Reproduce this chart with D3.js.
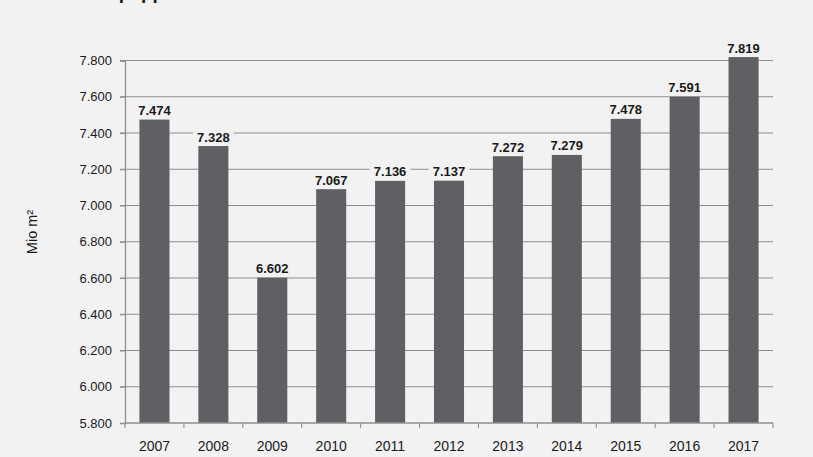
<!DOCTYPE html>
<html>
<head>
<meta charset="utf-8">
<script src="https://cdn.jsdelivr.net/npm/d3@7"></script>
<style>
  html, body { margin: 0; padding: 0; background: #f2f2f2; }
  svg { display: block; }
  text { font-family: "Liberation Sans", Arial, sans-serif; fill: #1a1a1a; }
</style>
</head>
<body>
<svg id="chart" width="813" height="457"></svg>
<script>
// Data
const years = ["2007","2008","2009","2010","2011","2012","2013","2014","2015","2016","2017"];
const barValues = [7474, 7328, 6602, 7090, 7136, 7137, 7272, 7279, 7478, 7600, 7819];
const valueLabels = ["7.474","7.328","6.602","7.067","7.136","7.137","7.272","7.279","7.478","7.591","7.819"];
const yTicks = [5800, 6000, 6200, 6400, 6600, 6800, 7000, 7200, 7400, 7600, 7800];
const yTitle = "Mio m²";
const titleText = "Wellpappe";

const W = 813, H = 457;
const plotLeft = 125, plotRight = 773, plotTop = 60.5, plotBottom = 423;

const svg = d3.select("#chart");
svg.append("rect").attr("width", W).attr("height", H).attr("fill", "#f2f2f2");

const de = d3.formatLocale({decimal: ",", thousands: ".", grouping: [3], currency: ["", "€"]});
const fmt = de.format(",d");

const x = d3.scaleBand().domain(years).range([plotLeft, plotRight]).paddingInner(0.49).paddingOuter(0.245);
const y = d3.scaleLinear().domain([5800, 7800]).range([plotBottom, plotTop]);

// title (cut off at the top, as in the reference)
svg.append("text").attr("x", 80).attr("y", -1)
  .attr("font-size", 19).attr("font-weight", "bold").text(titleText);

// gridlines
svg.append("g").selectAll("line").data(yTicks.filter(d => d > 5800)).join("line")
  .attr("x1", plotLeft - 5).attr("x2", plotRight)
  .attr("y1", d => y(d)).attr("y2", d => y(d))
  .attr("stroke", "#8e8e8e").attr("stroke-width", 1.1);

// y axis
const yAxis = d3.axisLeft(y).tickValues(yTicks).tickFormat(fmt).tickSize(5).tickPadding(8);
const gy = svg.append("g").attr("transform", `translate(${plotLeft},0)`).call(yAxis);
gy.select(".domain").attr("stroke", "#8e8e8e").attr("stroke-width", 1.3);
gy.selectAll(".tick line").attr("stroke", "#8e8e8e").attr("stroke-width", 1.1);
gy.selectAll(".tick text").attr("font-size", 13).attr("fill", "#1a1a1a")
  .attr("font-family", "Liberation Sans, Arial, sans-serif");

// bars
svg.append("g").selectAll("rect").data(years).join("rect")
  .attr("x", d => x(d)).attr("width", x.bandwidth())
  .attr("y", (d, i) => y(barValues[i]))
  .attr("height", (d, i) => y(5800) - y(barValues[i]))
  .attr("fill", "#5e6064");

// x axis line
svg.append("line").attr("x1", plotLeft).attr("x2", plotRight).attr("y1", plotBottom).attr("y2", plotBottom)
  .attr("stroke", "#8e8e8e").attr("stroke-width", 1.3);
// x ticks at category boundaries
const step = x.step();
const boundaries = d3.range(years.length + 1).map(i => x(years[0]) - x.paddingInner() * step / 2 + i * step);
svg.append("g").selectAll("line").data(boundaries).join("line")
  .attr("x1", d => d).attr("x2", d => d).attr("y1", plotBottom).attr("y2", plotBottom + 5)
  .attr("stroke", "#8e8e8e").attr("stroke-width", 1.1);

// year labels
svg.append("g").selectAll("text").data(years).join("text")
  .attr("x", d => x(d) + x.bandwidth() / 2).attr("y", 451)
  .attr("text-anchor", "middle").attr("font-size", 14).text(d => d);

// value labels with background
const lg = svg.append("g").selectAll("g").data(years).join("g");
lg.each(function(d, i) {
  const g = d3.select(this);
  const cx = x(d) + x.bandwidth() / 2;
  const by = y(barValues[i]) - 4.5;
  const t = g.append("text").attr("x", cx).attr("y", by)
    .attr("text-anchor", "middle").attr("font-size", 13).attr("font-weight", "bold")
    .text(valueLabels[i]);
  const bb = t.node().getBBox();
  g.insert("rect", "text").attr("x", bb.x - 4).attr("y", bb.y).attr("width", bb.width + 8)
    .attr("height", bb.height).attr("fill", "#f2f2f2");
});

// y title
svg.append("text").attr("transform", "translate(37,232) rotate(-90)")
  .attr("text-anchor", "middle").attr("font-size", 14.5).text(yTitle);
</script>
</body>
</html>
